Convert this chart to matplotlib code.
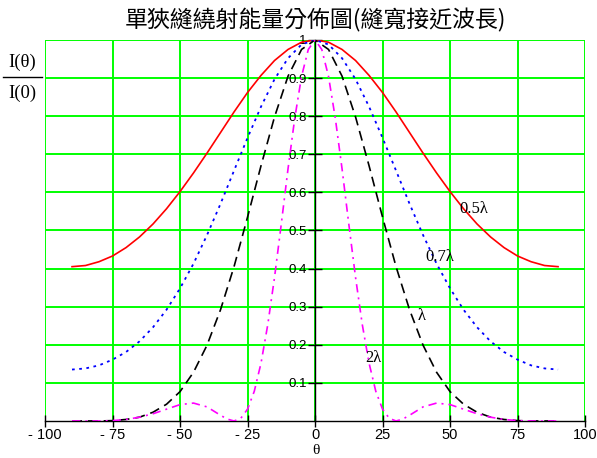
import matplotlib
matplotlib.use("Agg")
import matplotlib.pyplot as plt
import numpy as np

# ---------------- 讀圖所得的數據 ----------------
theta = [-90, -85, -80, -75, -70, -65, -60, -55, -50, -45, -40, -35, -30, -25, -20, -15, -10, -5,
         0, 5, 10, 15, 20, 25, 30, 35, 40, 45, 50, 55, 60, 65, 70, 75, 80, 85, 90]

# 縫寬 0.5λ
i_05 = [0.405, 0.408, 0.418, 0.433, 0.455, 0.483, 0.517, 0.557, 0.602, 0.651, 0.703, 0.757, 0.811,
        0.862, 0.907, 0.946, 0.975, 0.994,
        1.0, 0.994, 0.975, 0.946, 0.907, 0.862, 0.811, 0.757, 0.703, 0.651, 0.602, 0.557, 0.517,
        0.483, 0.455, 0.433, 0.418, 0.408, 0.405]
# 縫寬 0.7λ
i_07 = [0.135, 0.138, 0.146, 0.161, 0.181, 0.209, 0.246, 0.292, 0.348, 0.413, 0.488, 0.570, 0.657,
        0.743, 0.825, 0.897, 0.952, 0.988,
        1.0, 0.988, 0.952, 0.897, 0.825, 0.743, 0.657, 0.570, 0.488, 0.413, 0.348, 0.292, 0.246,
        0.209, 0.181, 0.161, 0.146, 0.138, 0.135]
# 縫寬 λ
i_10 = [0.0, 0.0, 0.0, 0.001, 0.004, 0.010, 0.023, 0.044, 0.077, 0.128, 0.199, 0.292, 0.405,
        0.535, 0.670, 0.798, 0.905, 0.975,
        1.0, 0.975, 0.905, 0.798, 0.670, 0.535, 0.405, 0.292, 0.199, 0.128, 0.077, 0.044, 0.023,
        0.010, 0.004, 0.001, 0.0, 0.0, 0.0]

# 縫寬 2λ (中央較密)
theta_2 = [-90, -85, -80, -75, -70, -65, -60, -55, -50, -45, -40, -35, -32.5, -30, -27.5, -25,
           -22.5, -20, -17.5, -15, -12.5, -10, -7.5, -5, -2.5, 0, 2.5, 5, 7.5, 10, 12.5, 15, 17.5,
           20, 22.5, 25, 27.5, 30, 32.5, 35, 40, 45, 50, 55, 60, 65, 70, 75, 80, 85, 90]
i_20 = [0.0, 0.0, 0.0, 0.001, 0.004, 0.010, 0.019, 0.031, 0.043, 0.047, 0.037, 0.015, 0.005, 0.0,
        0.007, 0.031, 0.078, 0.152, 0.253, 0.377, 0.517, 0.662, 0.795, 0.904, 0.975, 1.0,
        0.975, 0.904, 0.795, 0.662, 0.517, 0.377, 0.253, 0.152, 0.078, 0.031, 0.007, 0.0, 0.005,
        0.015, 0.037, 0.047, 0.043, 0.031, 0.019, 0.010, 0.004, 0.001, 0.0, 0.0, 0.0]

x_ticks = [-100, -75, -50, -25, 0, 25, 50, 75, 100]
x_ticklabels = ["- 100", "- 75", "- 50", "- 25", "0", "25", "50", "75", "100"]
y_ticks = [0.1, 0.2, 0.3, 0.4, 0.5, 0.6, 0.7, 0.8, 0.9, 1.0]
y_ticklabels = ["0.1", "0.2", "0.3", "0.4", "0.5", "0.6", "0.7", "0.8", "0.9", "1"]

# ---------------- 畫圖 ----------------
fig = plt.figure(figsize=(5.97, 4.58), dpi=100)
ax = fig.add_axes([0.0754, 0.0808, 0.9046, 0.832])

ax.set_xlim(-100, 100)
ax.set_ylim(0, 1)

# 綠色格線
for xv in x_ticks:
    ax.axvline(xv, color="#00ff00", lw=1.4, zorder=1)
for yv in y_ticks:
    ax.axhline(yv, color="#00ff00", lw=1.4, zorder=1)

ax.plot(theta, i_05, color="#ff0000", lw=1.2, zorder=3)
ax.plot(theta, i_07, color="#0000ff", lw=1.3, dashes=(1.5, 2.5), zorder=3)
ax.plot(theta, i_10, color="#000000", lw=1.2, dashes=(6, 3.5), zorder=3)
ax.plot(theta_2, i_20, color="#ff00ff", lw=1.2, dashes=(5, 3, 1.2, 3), zorder=3)

# 座標軸放在 0 處
for s in ["top", "right"]:
    ax.spines[s].set_visible(False)
ax.spines["left"].set_position(("data", 0))
ax.spines["bottom"].set_position(("data", 0))
ax.spines["left"].set_zorder(2)
ax.spines["bottom"].set_zorder(2)
ax.spines["left"].set_linewidth(1.0)
ax.spines["bottom"].set_linewidth(1.0)

ax.set_xticks(x_ticks)
ax.set_xticklabels(x_ticklabels, fontsize=10.5, family="Liberation Sans")
ax.set_yticks(y_ticks)
ax.set_yticklabels(y_ticklabels, fontsize=9.5, family="Liberation Sans")
ax.tick_params(axis="x", direction="inout", length=8, width=1.0, pad=1)
ax.tick_params(axis="y", direction="inout", length=10, width=1.0, pad=1)

# 曲線標註
lab_font = dict(fontsize=12, family="Liberation Serif", zorder=4)
ax.text(53.5, 0.545, "0.5λ", **lab_font)
ax.text(41, 0.42, "0.7λ", **lab_font)
ax.text(38, 0.265, "λ", **lab_font)
ax.text(18.5, 0.155, "2λ", **lab_font)

# 標題
fig.text(0.528, 0.955, "單狹縫繞射能量分佈圖(縫寬接近波長)", ha="center", va="center",
         fontsize=16.5, family=["Noto Sans CJK TC", "DejaVu Sans"])

# 縱軸標題 I(θ)/I(0)
fig.text(0.038, 0.864, "I(θ)", ha="center", va="center", fontsize=13.5, family="Liberation Serif")
fig.lines.append(plt.Line2D([0.005, 0.07], [0.831, 0.831], transform=fig.transFigure,
                            color="black", lw=1.0))
fig.text(0.038, 0.797, "I(0)", ha="center", va="center", fontsize=13.5, family="Liberation Serif")

# 橫軸標題 θ
fig.text(0.53, 0.016, "θ", ha="center", va="center", fontsize=11, family="Liberation Serif")

fig.savefig("out.png", dpi=100)
